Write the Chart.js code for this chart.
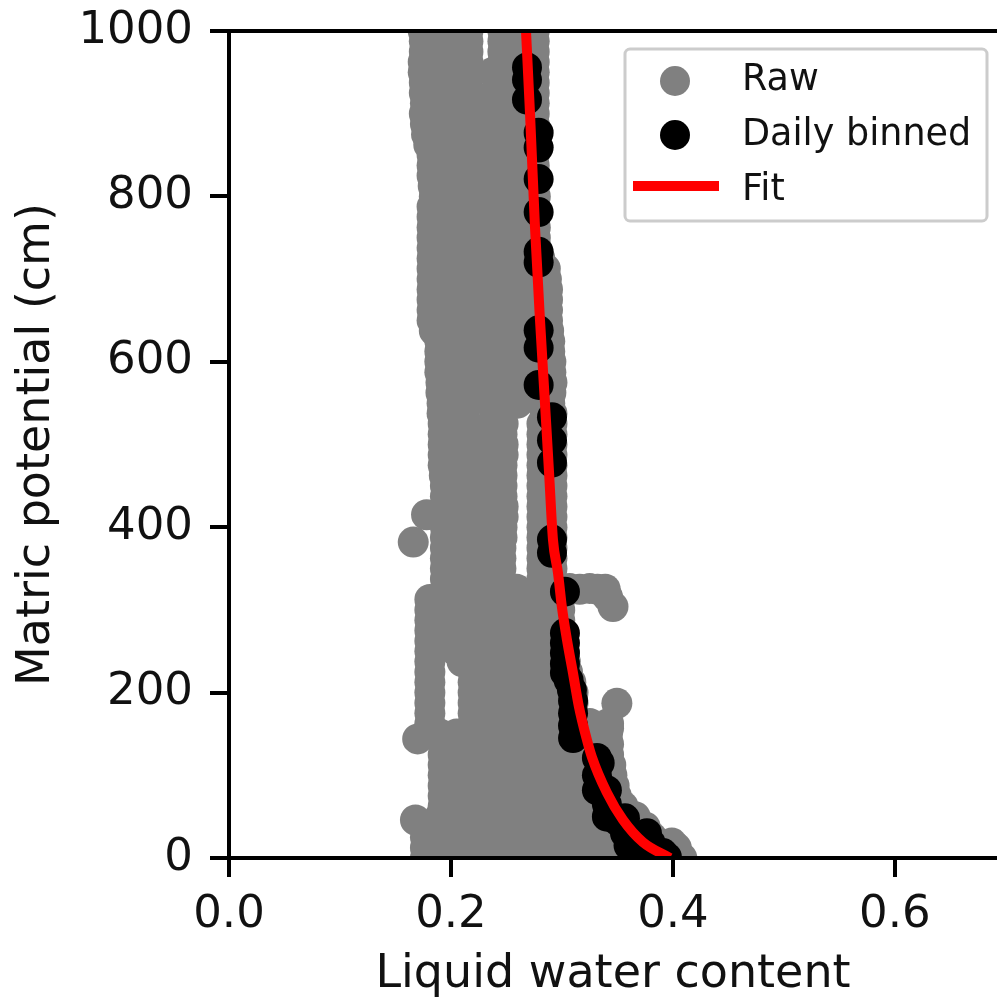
<!DOCTYPE html>
<html>
<head>
<meta charset="utf-8">
<title>Liquid water content vs matric potential</title>
<script src="https://cdn.jsdelivr.net/npm/chart.js@4"></script>
<style>
  html, body { margin: 0; padding: 0; background: #fff; }
  canvas { display: block; }
</style>
</head>
<body>
<canvas id="chart" width="997" height="1003"></canvas>
<script>
const xTicks = [0, 0.2, 0.4, 0.6];
const yTicks = [0, 200, 400, 600, 800, 1000];

// raw cloud, one list of water contents per potential level
const rawLevels = [1000, 987.5, 975, 962.5, 950, 937.5, 925, 912.5, 900, 887.5, 875, 862.5, 850, 837.5, 825, 812.5, 800, 787.5, 775, 762.5, 750, 737.5, 725, 712.5, 700, 687.5, 675, 662.5, 650, 637.5, 625, 612.5, 600, 587.5, 575, 562.5, 550, 537.5, 525, 512.5, 500, 487.5, 475, 462.5, 450, 437.5, 425, 412.5, 400, 387.5, 375, 362.5, 350, 337.5, 325, 312.5, 300, 287.5, 275, 262.5, 250, 237.5, 225, 212.5, 200, 187.5, 175, 162.5, 150, 137.5, 125, 112.5, 100, 87.5, 75, 62.5, 50, 37.5, 25, 12.5, 0];
const rawAtLevel = [
  [0.175, 0.195, 0.2153, 0.2468, 0.267, 0.275],
  [0.176, 0.196, 0.2153, 0.2468, 0.265, 0.275],
  [0.176, 0.195, 0.2153, 0.2468, 0.262, 0.275],
  [0.175, 0.197, 0.2153, 0.2468, 0.262, 0.275],
  [0.175, 0.197, 0.218, 0.238, 0.258, 0.275],
  [0.176, 0.197, 0.214, 0.2445, 0.262, 0.275],
  [0.176, 0.197, 0.217, 0.239, 0.262, 0.275],
  [0.177, 0.197, 0.216, 0.238, 0.262, 0.275],
  [0.176, 0.194, 0.216, 0.238, 0.260, 0.275],
  [0.177, 0.197, 0.220, 0.245, 0.275],
  [0.178, 0.198, 0.220, 0.242, 0.264, 0.275],
  [0.180, 0.200, 0.225, 0.250, 0.275],
  [0.183, 0.205, 0.227, 0.249, 0.271, 0.275],
  [0.183, 0.210, 0.240, 0.275],
  [0.183, 0.194, 0.216, 0.238, 0.260, 0.275],
  [0.184, 0.210, 0.240, 0.275],
  [0.185, 0.205, 0.227, 0.249, 0.271, 0.276],
  [0.183, 0.210, 0.240, 0.276],
  [0.183, 0.194, 0.216, 0.238, 0.260, 0.275],
  [0.183, 0.210, 0.240, 0.276],
  [0.183, 0.205, 0.227, 0.249, 0.271, 0.276],
  [0.183, 0.210, 0.240, 0.277],
  [0.183, 0.194, 0.216, 0.238, 0.260, 0.280],
  [0.183, 0.210, 0.240, 0.285],
  [0.183, 0.205, 0.227, 0.249, 0.271, 0.286],
  [0.183, 0.210, 0.240, 0.287],
  [0.183, 0.194, 0.216, 0.238, 0.260, 0.282, 0.287],
  [0.183, 0.210, 0.240, 0.287],
  [0.183, 0.205, 0.227, 0.249, 0.271, 0.287],
  [0.185, 0.210, 0.240, 0.288],
  [0.190, 0.208, 0.230, 0.252, 0.274, 0.289],
  [0.190, 0.210, 0.240, 0.289],
  [0.190, 0.216, 0.238, 0.260, 0.282, 0.290],
  [0.190, 0.210, 0.240, 0.290],
  [0.191, 0.208, 0.230, 0.252, 0.274, 0.291],
  [0.191, 0.210, 0.240, 0.290],
  [0.192, 0.216, 0.238, 0.260, 0.282, 0.289],
  [0.192, 0.210, 0.240, 0.285, 0.291],
  [0.193, 0.215, 0.237, 0.247, 0.282, 0.291],
  [0.193, 0.220, 0.246, 0.282, 0.291],
  [0.193, 0.205, 0.225, 0.247, 0.282, 0.291],
  [0.193, 0.220, 0.247, 0.282, 0.291],
  [0.193, 0.215, 0.237, 0.246, 0.282, 0.291],
  [0.194, 0.220, 0.246, 0.282, 0.291],
  [0.195, 0.205, 0.225, 0.246, 0.282, 0.291],
  [0.195, 0.220, 0.246, 0.282, 0.291],
  [0.195, 0.215, 0.237, 0.247, 0.282, 0.291],
  [0.195, 0.220, 0.247, 0.282, 0.291],
  [0.195, 0.205, 0.225, 0.246, 0.282, 0.291],
  [0.195, 0.220, 0.246, 0.282, 0.291],
  [0.195, 0.215, 0.237, 0.245, 0.282, 0.291],
  [0.195, 0.220, 0.245, 0.282, 0.291],
  [0.195, 0.205, 0.225, 0.245, 0.282, 0.291],
  [0.195, 0.220, 0.245, 0.282, 0.291],
  [0.195, 0.215, 0.237, 0.259, 0.281, 0.298, 0.316, 0.332, 0.339],
  [0.181, 0.210, 0.240, 0.270, 0.298],
  [0.181, 0.205, 0.227, 0.249, 0.271, 0.290, 0.298],
  [0.181, 0.210, 0.240, 0.270, 0.298],
  [0.181, 0.194, 0.216, 0.238, 0.260, 0.282, 0.298],
  [0.181, 0.210, 0.240, 0.270, 0.300],
  [0.181, 0.205, 0.227, 0.249, 0.271, 0.293, 0.302],
  [0.181, 0.210, 0.240, 0.270, 0.303],
  [0.181, 0.220, 0.238, 0.260, 0.282, 0.305],
  [0.181, 0.220, 0.250, 0.280, 0.308],
  [0.181, 0.220, 0.242, 0.264, 0.286, 0.310],
  [0.181, 0.220, 0.250, 0.280, 0.310],
  [0.181, 0.220, 0.238, 0.260, 0.282, 0.304, 0.310],
  [0.181, 0.220, 0.250, 0.280, 0.310, 0.325, 0.342],
  [0.190, 0.205, 0.227, 0.249, 0.271, 0.293, 0.315, 0.330, 0.341],
  [0.193, 0.210, 0.240, 0.270, 0.300, 0.330, 0.342],
  [0.193, 0.216, 0.238, 0.260, 0.282, 0.304, 0.326, 0.342],
  [0.193, 0.220, 0.250, 0.280, 0.310, 0.344],
  [0.193, 0.205, 0.227, 0.249, 0.271, 0.293, 0.315, 0.337, 0.345],
  [0.193, 0.220, 0.250, 0.280, 0.310, 0.347],
  [0.193, 0.216, 0.238, 0.260, 0.282, 0.304, 0.326, 0.349],
  [0.193, 0.220, 0.250, 0.280, 0.310, 0.355],
  [0.190, 0.205, 0.227, 0.249, 0.271, 0.293, 0.315, 0.337, 0.366],
  [0.180, 0.210, 0.240, 0.270, 0.300, 0.330, 0.375],
  [0.177, 0.194, 0.216, 0.238, 0.260, 0.282, 0.304, 0.326, 0.348, 0.370, 0.381],
  [0.177, 0.210, 0.240, 0.270, 0.300, 0.330, 0.360, 0.390, 0.403],
  [0.177, 0.197, 0.219, 0.241, 0.263, 0.285, 0.307, 0.329, 0.351, 0.373, 0.395, 0.408]
];
// stragglers sticking out of the cloud
const rawExtraX = [0.166, 0.178, 0.341, 0.346, 0.170, 0.3495, 0.320, 0.335, 0.342, 0.168, 0.399, 0.307, 0.325];
const rawExtraY = [382, 415, 316, 304, 144, 187, 157, 157, 157, 46, 18, 326, 326];

const binnedX = [0.2685, 0.2685, 0.2685, 0.279, 0.279, 0.279, 0.279, 0.279, 0.279, 0.279, 0.279, 0.279, 0.291, 0.291, 0.291, 0.291, 0.291, 0.3027, 0.3027, 0.3027, 0.3027, 0.3027, 0.3027, 0.306, 0.309, 0.31, 0.31, 0.31, 0.31, 0.3315, 0.334, 0.3315, 0.3315, 0.3405, 0.3405, 0.3405, 0.35, 0.3568, 0.3568, 0.3568, 0.3766, 0.3703, 0.3685, 0.38, 0.36, 0.391, 0.3946];
const binnedY = [956, 941, 917, 877, 859, 821, 781, 733, 720, 638, 617, 572, 533, 505, 478, 385, 369, 322, 272, 260, 248, 235, 224, 215, 203, 190, 175, 160, 145, 121, 115, 100, 82, 82, 65, 50, 45, 48, 38, 30, 30, 10, 5, 18, 15, 6, 1];

const fitX = [0.2676, 0.2712, 0.2757, 0.2802, 0.2847, 0.2883, 0.2919, 0.2964, 0.3, 0.3045, 0.3099, 0.3153, 0.3225, 0.327, 0.3405, 0.355, 0.373, 0.3973];
const fitY = [1000, 901, 763, 651, 550, 468, 385, 345, 303, 264, 224, 183, 143, 122, 79, 46, 19, 0];

const rawPoints = [];
rawLevels.forEach((level, i) => {
  rawAtLevel[i].forEach(x => rawPoints.push({ x: x, y: level }));
});
rawExtraX.forEach((x, i) => rawPoints.push({ x: x, y: rawExtraY[i] }));

const binnedPoints = binnedX.map((x, i) => ({ x: x, y: binnedY[i] }));
const fitPoints = fitX.map((x, i) => ({ x: x, y: fitY[i] }));

// legend box sits inside the axes, plus the top spine matplotlib draws
const boxLegend = {
  id: 'boxLegend',
  afterDraw(chart) {
    const ctx = chart.ctx;
    const area = chart.chartArea;
    ctx.save();
    ctx.strokeStyle = '#000';
    ctx.lineWidth = 4;
    ctx.beginPath();
    ctx.moveTo(area.left - 2, area.top);
    ctx.lineTo(area.right, area.top);
    ctx.stroke();

    ctx.fillStyle = 'rgba(255,255,255,0.9)';
    ctx.strokeStyle = '#cccccc';
    ctx.lineWidth = 3;
    ctx.beginPath();
    ctx.roundRect(625, 49, 362, 172, 5);
    ctx.fill();
    ctx.stroke();

    ctx.fillStyle = 'gray';
    ctx.beginPath();
    ctx.arc(675, 81, 15, 0, Math.PI * 2);
    ctx.fill();
    ctx.fillStyle = '#000';
    ctx.beginPath();
    ctx.arc(675, 135, 15, 0, Math.PI * 2);
    ctx.fill();
    ctx.fillStyle = '#f00';
    ctx.fillRect(633, 181, 86, 10);

    ctx.fillStyle = '#111';
    ctx.font = '36.5px "DejaVu Sans"';
    ctx.textBaseline = 'alphabetic';
    chart.data.datasets.forEach((ds, i) => {
      ctx.fillText(ds.label, 742, 90 + i * 55);
    });
    ctx.restore();
  }
};

new Chart(document.getElementById('chart'), {
  type: 'scatter',
  data: {
    datasets: [
      { label: 'Raw', data: rawPoints, backgroundColor: 'gray', borderWidth: 0, pointRadius: 15.5, order: 3, clip: 0 },
      { label: 'Daily binned', data: binnedPoints, backgroundColor: '#000', borderWidth: 0, pointRadius: 15, order: 2, clip: 0 },
      { label: 'Fit', type: 'line', data: fitPoints, borderColor: '#f00', borderWidth: 10, pointRadius: 0, cubicInterpolationMode: 'monotone', order: 1, clip: 0 }
    ]
  },
  options: {
    responsive: false,
    animation: false,
    layout: { autoPadding: false, padding: { top: 31, right: 0, left: 0, bottom: 0 } },
    plugins: { legend: { display: false }, tooltip: { enabled: false } },
    scales: {
      x: {
        type: 'linear',
        min: 0,
        max: 0.692,
        afterBuildTicks: axis => { axis.ticks = xTicks.map(v => ({ value: v })); },
        afterFit: axis => { axis.height = 145; axis.paddingLeft = 0; axis.paddingRight = 0; },
        border: { color: '#000', width: 4, z: 1 },
        grid: { drawOnChartArea: false, color: '#000', lineWidth: 4, tickLength: 19 },
        ticks: {
          color: '#111',
          font: { family: '"DejaVu Sans"', size: 45 },
          padding: 11,
          maxRotation: 0,
          autoSkip: false,
          callback: v => v.toFixed(1)
        },
        title: {
          display: true,
          text: 'Liquid water content',
          color: '#111',
          font: { family: '"DejaVu Sans"', size: 46 },
          padding: { top: 10, bottom: 0 }
        }
      },
      y: {
        type: 'linear',
        min: 0,
        max: 1000,
        afterBuildTicks: axis => { axis.ticks = yTicks.map(v => ({ value: v })); },
        afterFit: axis => { axis.width = 229; axis.paddingTop = 0; axis.paddingBottom = 0; },
        border: { color: '#000', width: 4, z: 1 },
        grid: { drawOnChartArea: false, color: '#000', lineWidth: 4, tickLength: 19 },
        ticks: {
          color: '#111',
          font: { family: '"DejaVu Sans"', size: 45 },
          padding: 17,
          autoSkip: false,
          callback: v => String(v)
        },
        title: {
          display: true,
          text: 'Matric potential (cm)',
          color: '#111',
          font: { family: '"DejaVu Sans"', size: 46 },
          padding: { top: 9, bottom: 10 }
        }
      }
    }
  },
  plugins: [boxLegend]
});
</script>
</body>
</html>
